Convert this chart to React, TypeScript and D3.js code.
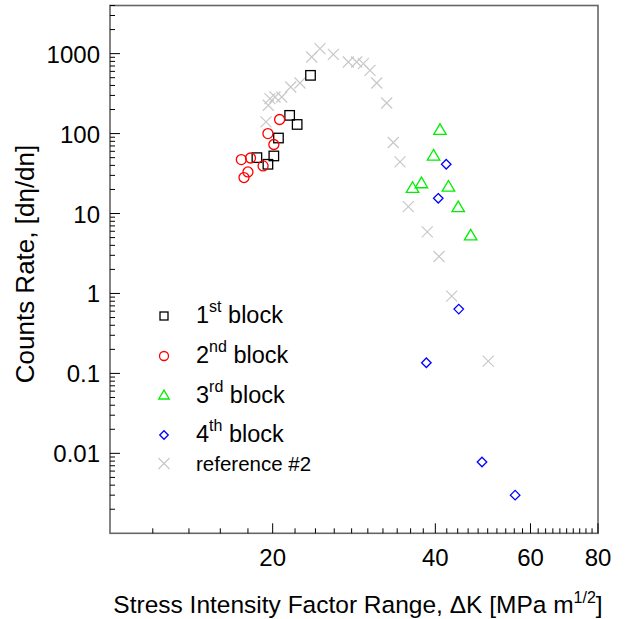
import React from "react";
import * as d3 from "d3";

// ---- Data ----
const block1X = [23.5, 21.5, 22.2, 20.5, 20.1, 18.7, 19.6];
const block1Y = [535, 169, 130, 88, 52.5, 50, 41.3];

const block2X = [20.6, 19.6, 20.1, 18.2, 17.5, 19.2, 18.0, 17.7];
const block2Y = [150, 100, 73, 49.5, 47.3, 39.4, 33.1, 28.2];

const block3X = [40.8, 39.7, 37.7, 36.3, 42.3, 44.1, 46.5];
const block3Y = [112, 53.5, 24.1, 21.1, 21.9, 12.1, 5.36];

const block4X = [41.9, 40.5, 44.2, 38.5, 48.8, 56.2];
const block4Y = [41.3, 15.5, 0.637, 0.136, 0.0078, 0.003];

const refX = [19.44, 19.63, 19.77, 20.2, 20.79, 21.6, 22.47, 23.62, 24.47, 25.9, 27.61, 28.61, 29.43, 30.28, 31.16, 32.51, 33.44, 34.41, 35.65, 38.65, 40.63, 42.89, 50.12];
const refY = [140, 226, 274, 287, 287, 382, 429, 907, 1155, 980, 785, 785, 750, 618, 429, 241, 77.4, 44.2, 12.2, 5.89, 2.9, 0.925, 0.1425];

const xTickLabels = [20, 40, 60, 80];
const yTickLabels = [1000, 100, 10, 1, 0.1, 0.01];
const yTickText = ["1000", "100", "10", "1", "0.1", "0.01"];

const xDomain = [10, 80];
const yDomain = [0.001, 4000];

// ---- Layout ----
const W = 636;
const H = 619;
const L = 110, R = 598, T = 5.5, B = 533.3;
const FONT = "'Liberation Sans', Arial, sans-serif";

const x = d3.scaleLog().domain(xDomain).range([L, R]);
const y = d3.scaleLog().domain(yDomain).range([B, T]);

const xMinor: number[] = [];
for (let v = 12; v < 80; v += 2) if (!xTickLabels.includes(v)) xMinor.push(v);
const yMinor: number[] = [];
for (let e = -3; e <= 3; e++) {
  for (let k = 2; k <= 9; k++) {
    const v = k * Math.pow(10, e);
    if (v <= yDomain[1]) yMinor.push(v);
  }
}

function Square({ cx, cy, s, color }: any) {
  return <rect x={cx - s / 2} y={cy - s / 2} width={s} height={s} fill="none" stroke={color} strokeWidth={1.3} />;
}
function Circle({ cx, cy, r, color }: any) {
  return <circle cx={cx} cy={cy} r={r} fill="none" stroke={color} strokeWidth={1.3} />;
}
function Tri({ cx, cy, w, color }: any) {
  const h = w * 0.85;
  const p = `M${cx},${cy - h * 0.55} L${cx + w / 2},${cy + h * 0.45} L${cx - w / 2},${cy + h * 0.45} Z`;
  return <path d={p} fill="none" stroke={color} strokeWidth={1.3} />;
}
function Diamond({ cx, cy, w, color }: any) {
  const h = w / 2;
  const p = `M${cx},${cy - h} L${cx + h},${cy} L${cx},${cy + h} L${cx - h},${cy} Z`;
  return <path d={p} fill="none" stroke={color} strokeWidth={1.3} />;
}
function Cross({ cx, cy, w, color }: any) {
  const h = w / 2;
  const p = `M${cx - h},${cy - h} L${cx + h},${cy + h} M${cx - h},${cy + h} L${cx + h},${cy - h}`;
  return <path d={p} fill="none" stroke={color} strokeWidth={1.2} />;
}

const GRAY = "#c8c8c8";

export default function App() {
  const legendX = 164;
  const textX = 196;
  return (
    <svg width={W} height={H} style={{ position: "absolute", left: 0, top: 0, background: "#fff" }} fontFamily={FONT}>
      <rect x={0} y={0} width={W} height={H} fill="#fff" />
      {/* reference crosses */}
      {refX.map((v, i) => (
        <Cross key={"r" + i} cx={x(v)} cy={y(refY[i])} w={11} color={GRAY} />
      ))}
      {block1X.map((v, i) => (
        <Square key={"b1" + i} cx={x(v)} cy={y(block1Y[i])} s={9.5} color="#000" />
      ))}
      {block2X.map((v, i) => (
        <Circle key={"b2" + i} cx={x(v)} cy={y(block2Y[i])} r={5} color="#ff0000" />
      ))}
      {block3X.map((v, i) => (
        <Tri key={"b3" + i} cx={x(v)} cy={y(block3Y[i])} w={12.5} color="#00ee00" />
      ))}
      {block4X.map((v, i) => (
        <Diamond key={"b4" + i} cx={x(v)} cy={y(block4Y[i])} w={9.5} color="#0000ff" />
      ))}

      {/* frame */}
      <rect x={L} y={T} width={R - L} height={B - T} fill="none" stroke="#666" strokeWidth={1.6} />

      {/* x ticks */}
      {xTickLabels.map((v) => (
        <line key={"xt" + v} x1={x(v)} x2={x(v)} y1={B} y2={B - 10} stroke="#000" strokeWidth={1} />
      ))}
      {xMinor.map((v) => (
        <line key={"xm" + v} x1={x(v)} x2={x(v)} y1={B} y2={B - 5} stroke="#000" strokeWidth={1} />
      ))}
      {xTickLabels.map((v) => (
        <text key={"xl" + v} x={x(v)} y={566} textAnchor="middle" fontSize={24} fill="#000">
          {v}
        </text>
      ))}

      {/* y ticks */}
      {yTickLabels.map((v) => (
        <line key={"yt" + v} x1={L} x2={L + 10} y1={y(v)} y2={y(v)} stroke="#000" strokeWidth={1} />
      ))}
      {yMinor.map((v) => (
        <line key={"ym" + v} x1={L} x2={L + 5} y1={y(v)} y2={y(v)} stroke="#000" strokeWidth={1} />
      ))}
      {yTickLabels.map((v, i) => (
        <text key={"yl" + v} x={100} y={y(v) + 9} textAnchor="end" fontSize={24} fill="#000">
          {yTickText[i]}
        </text>
      ))}

      {/* axis titles */}
      <text x={358} y={613} textAnchor="middle" fontSize={24.5} fill="#000">
        Stress Intensity Factor Range, ΔK [MPa m
        <tspan dy={-10} fontSize={16}>1/2</tspan>
        <tspan dy={10}>]</tspan>
      </text>
      <text transform={`translate(34,264) rotate(-90)`} textAnchor="middle" fontSize={26} fill="#000">
        Counts Rate, [dη/dn]
      </text>

      {/* legend */}
      <Square cx={legendX} cy={316} s={8} color="#000" />
      <Circle cx={legendX} cy={356} r={4.5} color="#ff0000" />
      <Tri cx={legendX} cy={395} w={10.5} color="#00ee00" />
      <Diamond cx={legendX} cy={435} w={8.5} color="#0000ff" />
      <Cross cx={legendX} cy={463.5} w={11} color={GRAY} />

      {[
        ["1", "st", 323],
        ["2", "nd", 363],
        ["3", "rd", 403],
        ["4", "th", 442],
      ].map(([n, s, yy]) => (
        <text key={n as string} x={textX} y={yy as number} fontSize={23.5} fill="#000">
          {n}
          <tspan dy={-11} fontSize={16}>{s}</tspan>
          <tspan dy={11}> block</tspan>
        </text>
      ))}
      <text x={textX} y={471} fontSize={20.5} fill="#000">reference #2</text>
    </svg>
  );
}
